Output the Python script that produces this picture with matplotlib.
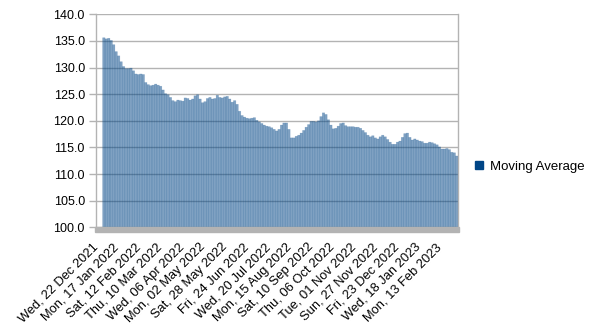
import datetime as dt
import matplotlib
matplotlib.use('Agg')
import matplotlib.pyplot as plt
from matplotlib.patches import Patch, Rectangle

plt.rcParams['font.family'] = ['Liberation Sans', 'DejaVu Sans']

# moving average, one reading every 3 days starting Wed 22 Dec 2021
start = dt.date(2021, 12, 22)
step_days = 3
moving_avg = [
    135.6, 135.4, 135.5, 135.1, 134.3, 133.0, 132.2, 131.1, 130.2, 129.8,
    129.8, 129.9, 129.4, 128.8, 128.7, 128.8, 128.7, 127.2, 126.8, 126.6,
    126.7, 126.9, 126.7, 126.5, 125.8, 125.1, 124.9, 124.4, 123.8, 123.6,
    123.9, 123.8, 123.7, 124.3, 124.2, 123.9, 124.1, 124.7, 124.9, 124.1,
    123.4, 123.6, 124.2, 124.4, 124.1, 124.2, 124.8, 124.4, 124.3, 124.5,
    124.6, 124.1, 123.5, 123.8, 123.1, 121.8, 121.0, 120.7, 120.5, 120.4,
    120.5, 120.6, 120.1, 119.8, 119.5, 119.2, 119.0, 118.9, 118.7, 118.4,
    118.1, 118.4, 119.2, 119.6, 119.6, 118.4, 116.8, 116.8, 117.1, 117.3,
    117.7, 118.2, 118.8, 119.3, 119.9, 119.9, 119.8, 120.0, 120.8, 121.5,
    121.2, 120.2, 119.2, 118.5, 118.6, 119.0, 119.5, 119.6, 119.1, 118.9,
    118.9, 118.9, 118.8, 118.8, 118.6, 118.2, 117.8, 117.3, 117.0, 117.2,
    116.8, 116.6, 117.0, 117.3, 117.0, 116.5, 116.0, 115.6, 115.6, 116.0,
    116.2, 116.9, 117.6, 117.7, 116.9, 116.4, 116.6, 116.4, 116.2, 116.1,
    115.8, 115.8, 116.0, 115.9, 115.7, 115.5, 115.1, 114.7, 114.7, 114.8,
    114.6, 114.1, 114.0, 113.4,
]
label_dates = [
    dt.date(2021, 12, 22), dt.date(2022, 1, 17), dt.date(2022, 2, 12),
    dt.date(2022, 3, 10), dt.date(2022, 4, 6), dt.date(2022, 5, 2),
    dt.date(2022, 5, 28), dt.date(2022, 6, 24), dt.date(2022, 7, 20),
    dt.date(2022, 8, 15), dt.date(2022, 9, 10), dt.date(2022, 10, 6),
    dt.date(2022, 11, 1), dt.date(2022, 11, 27), dt.date(2022, 12, 23),
    dt.date(2023, 1, 18), dt.date(2023, 2, 13),
]
y_ticks = [100, 105, 110, 115, 120, 125, 130, 135, 140]

fig = plt.figure(figsize=(5.93, 3.34), dpi=100)
ax = fig.add_axes([96 / 593, 1 - 227.3 / 334, 362 / 593, 213 / 334])

days = [i * step_days for i in range(len(moving_avg))]
bars = ax.bar(days, [v - 100 for v in moving_avg], bottom=100, width=step_days,
              align='edge', color=(0, 0.27, 0.525, 0.5),
              edgecolor=(0, 0.27, 0.525, 0.2), linewidth=0.4, zorder=2)
for b in bars:
    b.set_snap(False)

ax.set_ylim(100, 140)
ax.set_xlim(-4.8, len(moving_avg) * step_days)
ax.set_yticks(y_ticks)
ax.set_yticklabels(['%.1f' % t for t in y_ticks])
ax.yaxis.grid(True, color='#b3b3b3', linewidth=1, zorder=1)
ax.set_axisbelow(True)

tick_pos = [(d - start).days - 8 for d in label_dates]
ax.set_xticks(tick_pos)
ax.set_xticklabels([d.strftime('%a, %d %b %Y') for d in label_dates],
                   rotation=45, ha='right', va='center', rotation_mode='anchor')
ax.tick_params(axis='x', length=0, pad=13, labelsize=9.3, colors='black')
ax.tick_params(axis='y', length=5, width=1, color='#b3b3b3', labelsize=9,
               pad=3)

for side in ['top', 'bottom']:
    ax.spines[side].set_visible(False)
for side in ['left', 'right']:
    ax.spines[side].set_color('#b3b3b3')
    ax.spines[side].set_linewidth(1)

# grey floor under the bars
ax.add_patch(Rectangle((-0.003, -0.024), 1.005, 0.024, transform=ax.transAxes,
                       color='#b3b3b3', clip_on=False, zorder=3))

fig.legend(handles=[Patch(color='#004586', label='Moving Average')],
           loc='center left', bbox_to_anchor=(470 / 593, 1 - 166.7 / 334),
           frameon=False, fontsize=9.5, handlelength=0.6, handleheight=0.6,
           handletextpad=0.5, borderaxespad=0)

fig.savefig('out.png', dpi=100)
